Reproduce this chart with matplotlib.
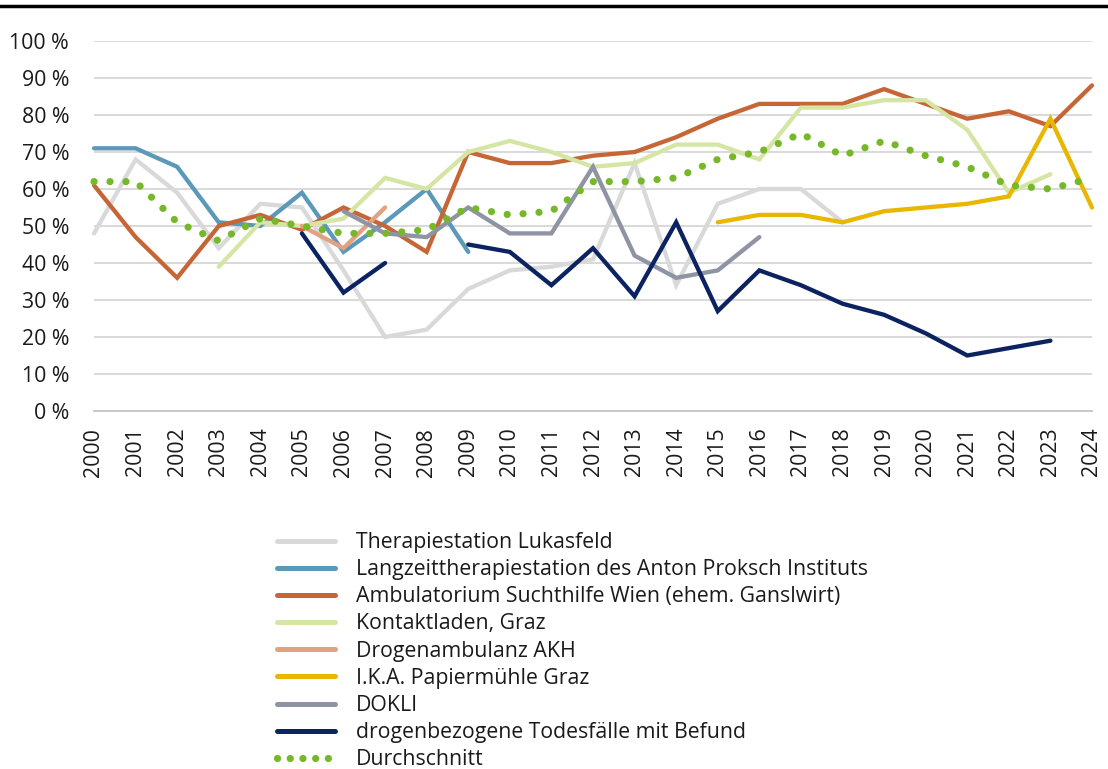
import matplotlib
matplotlib.use("Agg")
import matplotlib.pyplot as plt
from matplotlib.lines import Line2D
import numpy as np

plt.rcParams['font.family'] = ['Open Sans', 'DejaVu Sans']

years = list(range(2000, 2025))
N = np.nan

lukasfeld = [48, 68, 59, 44, 56, 55, 38, 20, 22, 33, 38, 39, 41, 67, 34, 56, 60, 60, 51, N, N, N, N, N, N]
langzeit = [71, 71, 66, 51, 50, 59, 43, 51, 60, 43, N, N, N, N, N, N, N, N, N, N, N, N, N, N, N]
ambulatorium = [61, 47, 36, 50, 53, 49, 55, 50, 43, 70, 67, 67, 69, 70, 74, 79, 83, 83, 83, 87, 83, 79, 81, 77, 88]
kontaktladen = [N, N, N, 39, 51, 50, 52, 63, 60, 70, 73, 70, 66, 67, 72, 72, 68, 82, 82, 84, 84, 76, 59, 64, N]
akh = [N, N, N, N, N, 50, 44, 55, N, N, N, N, N, N, N, N, N, N, N, N, N, N, N, N, N]
ika = [N, N, N, N, N, N, N, N, N, N, N, N, N, N, N, 51, 53, 53, 51, 54, 55, 56, 58, 79, 55]
dokli = [N, N, N, N, N, N, 54, 48, 47, 55, 48, 48, 66, 42, 36, 38, 47, N, N, N, N, N, N, N, N]
todesfaelle = [N, N, N, N, N, 48, 32, 40, N, 45, 43, 34, 44, 31, 51, 27, 38, 34, 29, 26, 21, 15, 17, 19, N]
durchschnitt = [62, 62, 51, 46, 52, 50, 48, 48, 49, 55, 53, 54, 62, 62, 63, 68, 70, 75, 69, 73, 69, 66, 61, 60, 63]

series = [
    ("Therapiestation Lukasfeld", lukasfeld, "#D9D9D9"),
    ("Langzeittherapiestation des Anton Proksch Instituts", langzeit, "#5B98B9"),
    ("Ambulatorium Suchthilfe Wien (ehem. Ganslwirt)", ambulatorium, "#C66637"),
    ("Kontaktladen, Graz", kontaktladen, "#D5E6A4"),
    ("Drogenambulanz AKH", akh, "#E2A282"),
    ("I.K.A. Papiermühle Graz", ika, "#E9B600"),
    ("DOKLI", dokli, "#8E94A4"),
    ("drogenbezogene Todesfälle mit Befund", todesfaelle, "#0B2360"),
]

fs = 15.3

fig = plt.figure(figsize=(11.08, 7.69), dpi=100)
ax = fig.add_axes([94/1108, 1-411/769, (1092-94)/1108, (411-41)/769])

for label, vals, col in series:
    ax.plot(years, vals, color=col, lw=3.1, solid_capstyle='round',
            solid_joinstyle='miter', label=label, clip_on=False)

ax.plot(years, durchschnitt, color="#76B82A", lw=5.2, linestyle=(0, (0.01, 2.2)),
        dash_capstyle='round', label="Durchschnitt", clip_on=False)

ax.set_xlim(2000, 2024)
ax.set_ylim(0, 100)
ax.set_yticks(range(0, 101, 10))
ax.set_yticklabels([f"{v} %" for v in range(0, 101, 10)])
ax.set_xticks(years)
ax.set_xticklabels([str(y) for y in years], rotation=90, va='top', ha='center')
ax.grid(axis='y', color='#D9D9D9', lw=1.4)
ax.set_axisbelow(True)
for s in ['top', 'right', 'left']:
    ax.spines[s].set_visible(False)
ax.spines['bottom'].set_color('#C8C8C8')
ax.spines['bottom'].set_linewidth(1.4)
ax.tick_params(axis='both', length=0, labelsize=fs, colors='#1a1a1a')
ax.tick_params(axis='y', pad=18)
ax.tick_params(axis='x', pad=12)

leg = fig.legend(loc='upper left', bbox_to_anchor=(277/1108, 1-532/769),
                 frameon=False, fontsize=fs, handlelength=2.75,
                 handletextpad=0.95, labelspacing=0.29, borderpad=0,
                 borderaxespad=0)
for t in leg.get_texts():
    t.set_color('#1a1a1a')
lines = leg.get_lines()
for h in lines[:-1]:
    h.set_linewidth(3.6)
lines[-1].set_linestyle((0, (0.01, 1.75)))

fig.add_artist(Line2D([0, 1], [1-6/769, 1-6/769], color='black', lw=2.5,
                      transform=fig.transFigure))

fig.savefig("out.png", dpi=100)
